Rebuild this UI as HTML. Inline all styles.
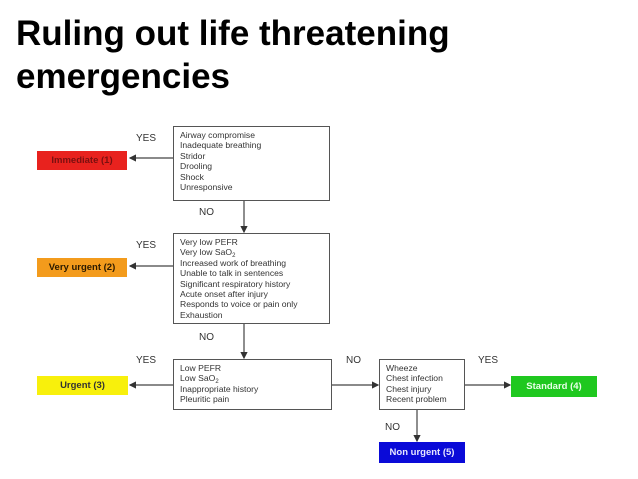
<!DOCTYPE html>
<html><head><style>
body{margin:0;width:638px;height:479px;background:#fff;position:relative;overflow:hidden;font-family:"Liberation Sans",Arial,sans-serif}
.t{position:absolute;left:16px;top:12px;font-size:35px;font-weight:bold;line-height:43px;color:#000}
.b{position:absolute;border:1.5px solid #555;background:#fff;box-sizing:border-box;font-size:8.6px;line-height:10.4px;color:#333;padding:3px 0 0 6px}
.l{position:absolute;font-size:9.5px;font-weight:bold;display:flex;align-items:center;justify-content:center;box-sizing:border-box}
.y{position:absolute;font-size:10px;color:#333}
sub{font-size:6px;line-height:0;vertical-align:-2px}
</style></head><body>
<div class="t">Ruling out life threatening<br>emergencies</div>
<svg width="638" height="479" style="position:absolute;left:0;top:0">
<defs><marker id="a" markerWidth="6" markerHeight="6" refX="5" refY="3" orient="auto"><path d="M0,0 L6,3 L0,6z" fill="#333"/></marker></defs>
<g stroke="#444" stroke-width="1.2" fill="none" marker-end="url(#a)">
<line x1="174" y1="158" x2="130" y2="158"/>
<line x1="244" y1="201" x2="244" y2="232"/>
<line x1="174" y1="266" x2="130" y2="266"/>
<line x1="244" y1="324" x2="244" y2="358"/>
<line x1="174" y1="385" x2="130" y2="385"/>
<line x1="332" y1="385" x2="378" y2="385"/>
<line x1="465" y1="385" x2="510" y2="385"/>
<line x1="417" y1="409" x2="417" y2="441"/>
</g></svg>
<div class="b" style="left:173px;top:126px;width:157px;height:75px">Airway compromise<br>Inadequate breathing<br>Stridor<br>Drooling<br>Shock<br>Unresponsive</div>
<div class="b" style="left:173px;top:233px;width:157px;height:91px">Very low PEFR<br>Very low SaO<sub>2</sub><br>Increased work of breathing<br>Unable to talk in sentences<br>Significant respiratory history<br>Acute onset after injury<br>Responds to voice or pain only<br>Exhaustion</div>
<div class="b" style="left:173px;top:359px;width:159px;height:51px">Low PEFR<br>Low SaO<sub>2</sub><br>Inappropriate history<br>Pleuritic pain</div>
<div class="b" style="left:379px;top:359px;width:86px;height:51px">Wheeze<br>Chest infection<br>Chest injury<br>Recent problem</div>
<div class="l" style="left:37px;top:151px;width:90px;height:19px;background:#e8221e;color:#7a1010">Immediate (1)</div>
<div class="l" style="left:37px;top:258px;width:90px;height:19px;background:#f39b1c;color:#2a1a00">Very urgent (2)</div>
<div class="l" style="left:37px;top:376px;width:91px;height:19px;background:#f8f00c;color:#333">Urgent (3)</div>
<div class="l" style="left:511px;top:376px;width:86px;height:21px;background:#1fc81f;color:#e8ffe8">Standard (4)</div>
<div class="l" style="left:379px;top:442px;width:86px;height:21px;background:#0a0ad8;color:#e8e8ff">Non urgent (5)</div>
<div class="y" style="left:136px;top:133px">YES</div>
<div class="y" style="left:199px;top:207px">NO</div>
<div class="y" style="left:136px;top:240px">YES</div>
<div class="y" style="left:199px;top:332px">NO</div>
<div class="y" style="left:136px;top:355px">YES</div>
<div class="y" style="left:346px;top:355px">NO</div>
<div class="y" style="left:478px;top:355px">YES</div>
<div class="y" style="left:385px;top:422px">NO</div>
</body></html>
